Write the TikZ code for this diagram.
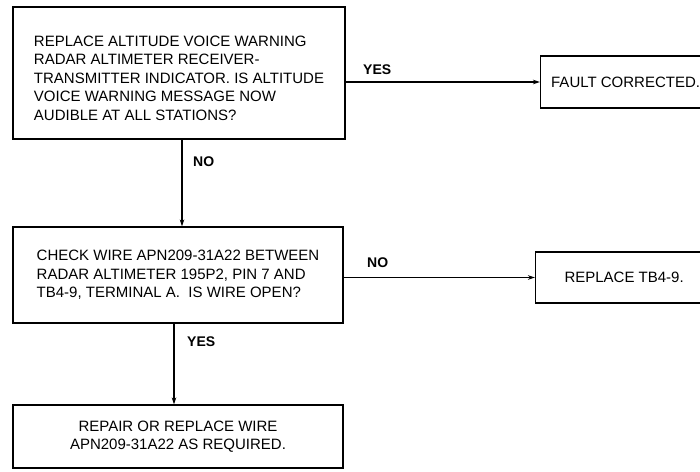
\documentclass[tikz,border=0pt]{standalone}
\usepackage{fontspec}
\setmainfont{Liberation Sans}
\usetikzlibrary{arrows.meta,positioning}

\tikzset{
  stepbox/.style={draw, line width=1.2pt, inner ysep=0pt, font=\fontsize{15}{18.5}\selectfont},
  flowarrow/.style={-{Stealth[length=7pt,width=4.5pt]}, line width=1.2pt},
  answer/.style={anchor=west, inner sep=0pt, font=\fontsize{14}{16}\selectfont\bfseries}
}

\begin{document}
\begin{tikzpicture}[x=1pt, y=-1pt]
\clip (0,0) rectangle (700,471);
\fill[white] (0,0) rectangle (700,471);

\node[stepbox, align=left, minimum width=332pt, minimum height=132pt] (replaceind) at (179,73)
  {\rule{0pt}{21pt}REPLACE ALTITUDE VOICE WARNING\\RADAR ALTIMETER RECEIVER-\\TRANSMITTER INDICATOR. IS ALTITUDE\\VOICE WARNING MESSAGE NOW\\AUDIBLE AT ALL STATIONS?};
\node[stepbox, anchor=west, minimum width=170pt, minimum height=52pt] (fault) at (540,82) {FAULT CORRECTED.};

\node[stepbox, align=left, minimum width=330pt, minimum height=96pt] (checkwire) at (178,275)
  {CHECK WIRE APN209-31A22 BETWEEN\\RADAR ALTIMETER 195P2, PIN 7 AND\\TB4-9, TERMINAL A.\ \ IS WIRE OPEN?};
\node[stepbox, anchor=west, minimum width=177pt, minimum height=51pt] (replacetb) at (535,277.5) {REPLACE TB4-9.};

\node[stepbox, align=center, minimum width=330pt, minimum height=63pt] (repairwire) at (178,436.5)
  {REPAIR OR REPLACE WIRE\\APN209-31A22 AS REQUIRED.};

\draw[flowarrow] (replaceind.east |- fault.west) -- (fault.west);
\draw[flowarrow] ([xshift=3]replaceind.south) -- ([xshift=3]replaceind.south |- checkwire.north);
\draw[flowarrow] (checkwire.east |- replacetb.west) -- (replacetb.west);
\draw[flowarrow] ([xshift=-4]checkwire.south) -- ([xshift=-4]checkwire.south |- repairwire.north);

\node[answer] (yesfault) at (363,70) {YES};
\node[answer] (nocheck) at (193,162) {NO};
\node[answer] (notb) at (367,263) {NO};
\node[answer] (yesrepair) at (187,342) {YES};
\end{tikzpicture}
\end{document}
